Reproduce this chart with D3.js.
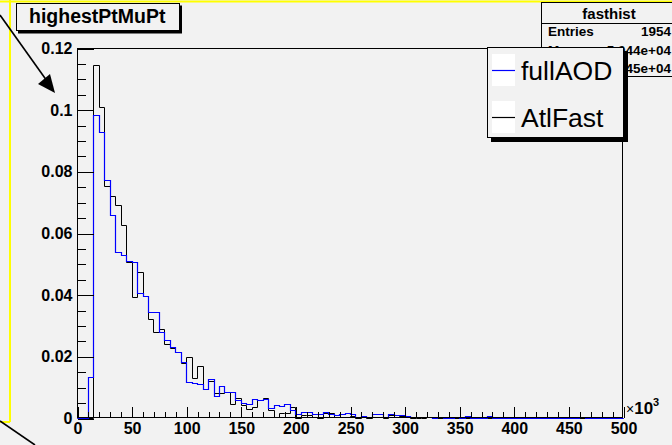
<!DOCTYPE html>
<html>
<head>
<meta charset="utf-8">
<script src="https://cdn.jsdelivr.net/npm/d3@7"></script>
<style>
  body { margin: 0; background: #f2f2f2; }
  text { font-family: "Liberation Sans", Arial, sans-serif; }
</style>
</head>
<body>
<div id="chart"></div>
<script>
// bins of 5 (x10^3), 0 to 500
var binWidth = 5;
var binLow = d3.range(0, 500, binWidth);

var fullAOD = [
  0, 0, 0.0133, 0.0984, 0.0928, 0.0772, 0.0658, 0.0539, 0.0529, 0.0510,
  0.0507, 0.0404, 0.0396, 0.0343, 0.0345, 0.0278, 0.0253, 0.0231, 0.0214, 0.0181,
  0.0118, 0.0115, 0.0110, 0.0093, 0.0127, 0.0072, 0.0105, 0.0083, 0.0085, 0.0057,
  0.0050, 0.0047, 0.0060, 0.0059, 0.0063, 0.0031, 0.0042, 0.0040, 0.0045, 0.0026,
  0.0012, 0.0020, 0.0018, 0.0012, 0.0012, 0.0020, 0.0014, 0.0010, 0.0012, 0.0016,
  0.0013, 0.0003, 0.0008, 0.0003, 0.0014, 0.0014, 0.0003, 0.0013, 0.0010, 0.0009,
  0.0005, 0.0003, 0.0002, 0.0002, 0.0002, 0.0001, 0.0002, 0.0001, 0.0001, 0.0002,
  0.0001, 0.0006, 0.0001, 0.0001, 0, 0.0007, 0, 0, 0, 0,
  0, 0, 0, 0, 0, 0, 0, 0, 0, 0,
  0, 0, 0.0002, 0, 0, 0, 0, 0, 0, 0
];

var atlFast = [
  0, 0, 0, 0.1145, 0.1008, 0.0752, 0.0721, 0.0691, 0.0626, 0.0505,
  0.0391, 0.0475, 0.0396, 0.0321, 0.0280, 0.0289, 0.0239, 0.0226, 0.0214, 0.0180,
  0.0197, 0.0131, 0.0168, 0.0093, 0.0121, 0.0080, 0.0080, 0.0085, 0.0045, 0.0064,
  0.0042, 0.0028, 0.0035, 0.0058, 0.0064, 0.0026, 0.0002, 0.0017, 0.0015, 0.0035,
  0, 0.0010, 0.0010, 0.0002, 0, 0.0017, 0.0015, 0.0002, 0.0002, 0.0004,
  0.0007, 0.0001, 0.0005, 0, 0.0003, 0.0003, 0, 0.0011, 0.0009, 0.0005,
  0.0003, 0.0001, 0.0001, 0, 0.0002, 0, 0.0001, 0, 0, 0.0001,
  0, 0, 0.0002, 0.0002, 0, 0, 0, 0, 0, 0,
  0, 0, 0, 0, 0, 0, 0, 0, 0, 0,
  0, 0, 0, 0, 0, 0, 0, 0, 0, 0
];

var xTicks = [0, 50, 100, 150, 200, 250, 300, 350, 400, 450, 500];
var xTickLabels = ["0", "50", "100", "150", "200", "250", "300", "350", "400", "450", "500"];
var yTicks = [0, 0.02, 0.04, 0.06, 0.08, 0.1, 0.12];
var yTickLabels = ["0", "0.02", "0.04", "0.06", "0.08", "0.1", "0.12"];

var legendNames = ["fullAOD", "AtlFast"];
var legendColors = ["#0000ff", "#000000"];

var statsTitle = "fasthist";
var statsRows = [["Entries", "1954"], ["Mean", "5.044e+04"], ["RMS", "3.445e+04"]];

var width = 672;
var height = 445;
var bg = "#f2f2f2";

var svg = d3.select("#chart")
  .append("svg")
  .attr("width", width)
  .attr("height", height)
  .style("display", "block");

svg.append("rect")
  .attr("width", width)
  .attr("height", height)
  .attr("fill", bg);

var x = d3.scaleLinear().domain([0, 500]).range([77, 623]);
var y = d3.scaleLinear().domain([0, 0.12]).range([418, 48]);

// yellow pad highlight
svg.append("path")
  .attr("d", "M0,1.5H672M10,0V422M0,422H10")
  .attr("stroke", "#ffff00")
  .attr("stroke-width", 2)
  .attr("fill", "none");

// arrows drawn on the canvas
svg.append("line")
  .attr("x1", 0).attr("y1", 15).attr("x2", 47).attr("y2", 81)
  .attr("stroke", "#000").attr("stroke-width", 1.6);
svg.append("polygon")
  .attr("points", "55,93 38,84 50,74")
  .attr("fill", "#000");
svg.append("line")
  .attr("x1", 0).attr("y1", 421).attr("x2", 35).attr("y2", 445)
  .attr("stroke", "#000").attr("stroke-width", 1.6);

// histograms
function stepPoints(vals) {
  var pts = [[0, 0]];
  vals.forEach(function(v, i) {
    pts.push([binLow[i], v]);
    pts.push([binLow[i] + binWidth, v]);
  });
  pts.push([500, 0]);
  return pts;
}

var line = d3.line()
  .x(function(d) { return Math.round(x(d[0])) + 0.5; })
  .y(function(d) { return Math.round(y(d[1])) + 0.5; });

svg.append("path")
  .attr("d", line(stepPoints(atlFast)))
  .attr("fill", "none")
  .attr("stroke", legendColors[1])
  .attr("stroke-width", 1);

svg.append("path")
  .attr("d", line(stepPoints(fullAOD)))
  .attr("fill", "none")
  .attr("stroke", legendColors[0])
  .attr("stroke-width", 1.2);

// frame
svg.append("rect")
  .attr("x", 77.5).attr("y", 48.5)
  .attr("width", 545).attr("height", 369)
  .attr("fill", "none")
  .attr("stroke", "#000")
  .attr("stroke-width", 1);

// y axis
var yMinor = svg.append("g")
  .attr("transform", "translate(77.5,0.5)")
  .call(d3.axisLeft(y).tickValues(d3.range(0, 0.1201, 0.005)).tickSize(-8).tickFormat(""));
var yMajor = svg.append("g")
  .attr("transform", "translate(77.5,0.5)")
  .call(d3.axisLeft(y).tickValues(yTicks).tickSize(-16).tickPadding(5)
    .tickFormat(function(d, i) { return yTickLabels[i]; }));

// x axis
var xMinor = svg.append("g")
  .attr("transform", "translate(0.5,417.5)")
  .call(d3.axisBottom(x).tickValues(d3.range(0, 501, 10)).tickSize(-6).tickFormat(""));
var xMajor = svg.append("g")
  .attr("transform", "translate(0.5,417.5)")
  .call(d3.axisBottom(x).tickValues(xTicks).tickSize(-11).tickPadding(5)
    .tickFormat(function(d, i) { return xTickLabels[i]; }));

svg.selectAll(".domain").remove();
svg.selectAll(".tick line").attr("stroke", "#000").attr("shape-rendering", "crispEdges");
[yMajor, xMajor].forEach(function(g) {
  g.selectAll("text")
    .style("font-family", "'Liberation Sans', Arial, sans-serif")
    .style("font-weight", "bold")
    .style("font-size", "16px")
    .attr("fill", "#000");
});

// x10^3
var expo = svg.append("text")
  .attr("x", 626).attr("y", 414)
  .attr("fill", "#000");
expo.append("tspan").text("\u00d7").style("font-size", "14px");
expo.append("tspan").text("10").style("font-size", "17px").style("font-weight", "bold");
expo.append("tspan").text("3").attr("dy", -8).style("font-size", "11px").style("font-weight", "bold");

// title box
svg.append("rect")
  .attr("x", 18).attr("y", 5.5).attr("width", 164).attr("height", 28)
  .attr("fill", "#000");
svg.append("rect")
  .attr("x", 16.5).attr("y", 3.5).attr("width", 163).attr("height", 27)
  .attr("fill", bg).attr("stroke", "#000");
svg.append("text")
  .attr("x", 29).attr("y", 23)
  .style("font-size", "19.5px").style("font-weight", "bold")
  .text("highestPtMuPt");

// stats box
svg.append("rect")
  .attr("x", 541.5).attr("y", 2.5).attr("width", 140).attr("height", 74)
  .attr("fill", bg).attr("stroke", "#000");
svg.append("line")
  .attr("x1", 541.5).attr("x2", 672).attr("y1", 23.5).attr("y2", 23.5)
  .attr("stroke", "#000");
svg.append("text")
  .attr("x", 609).attr("y", 19)
  .attr("text-anchor", "middle")
  .style("font-size", "15px").style("font-weight", "bold")
  .text(statsTitle);
statsRows.forEach(function(r, i) {
  svg.append("text")
    .attr("x", 548).attr("y", 36 + i * 18.5)
    .style("font-size", "13.5px").style("font-weight", "bold")
    .text(r[0]);
  svg.append("text")
    .attr("x", 671).attr("y", 36 + i * 18.5)
    .attr("text-anchor", "end")
    .style("font-size", "13.5px").style("font-weight", "bold")
    .text(r[1]);
});

// legend
svg.append("rect")
  .attr("x", 491).attr("y", 51).attr("width", 137).attr("height", 91)
  .attr("fill", "#000");
svg.append("rect")
  .attr("x", 487.5).attr("y", 47.5).attr("width", 136).attr("height", 90)
  .attr("fill", bg).attr("stroke", "#000");

var leg = svg.selectAll(".leg")
  .data(legendNames)
  .enter()
  .append("g")
  .attr("class", "leg")
  .attr("transform", function(d, i) { return "translate(0," + (i * 47) + ")"; });
leg.append("rect")
  .attr("x", 492).attr("y", 54).attr("width", 23).attr("height", 32)
  .attr("fill", "#ffffff");
leg.append("line")
  .attr("x1", 492).attr("x2", 515).attr("y1", 70.5).attr("y2", 70.5)
  .attr("stroke", function(d, i) { return legendColors[i]; })
  .attr("stroke-width", 1.2);
leg.append("text")
  .attr("x", 521).attr("y", 80)
  .style("font-size", "26.5px")
  .text(function(d) { return d; });
</script>
</body>
</html>
